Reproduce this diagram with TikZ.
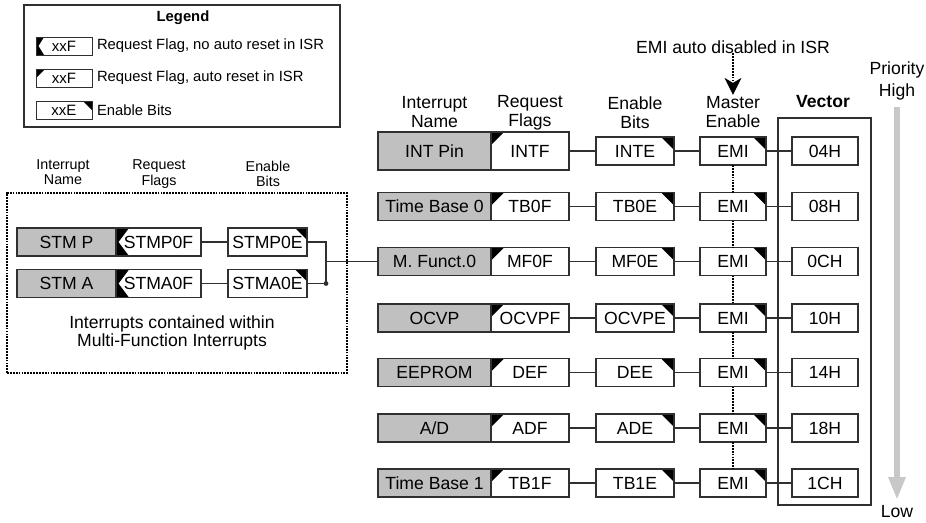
\documentclass[tikz,border=0pt]{standalone}
\usepackage{fontspec}
\setmainfont{Liberation Sans}
\usetikzlibrary{arrows.meta}
\definecolor{gbox}{HTML}{C0C0C0}
\definecolor{gprio}{HTML}{C8C8C8}
\definecolor{lc}{HTML}{303030}
\begin{document}
\begin{tikzpicture}[x=1pt,y=-1pt,
  every node/.style={inner sep=0pt, outer sep=0pt},
  trTL/.style={path picture={\fill[black] (path picture bounding box.north west) -- ++(#1,0) -- ++(-#1,-#1) -- cycle;}},
  trTR/.style={path picture={\fill[black] (path picture bounding box.north east) -- ++(-#1,0) -- ++(#1,-#1) -- cycle;}},
  chev/.style={path picture={\fill[black] (path picture bounding box.north west) -- ++(#1,0) -- ([xshift=2.5pt]path picture bounding box.west) -- ([xshift=#1]path picture bounding box.south west) -- (path picture bounding box.south west) -- cycle;}},
  bx/.style={draw=lc, line width=1.1pt, fill=white, rectangle, minimum height=28pt, font=\fontsize{17.6}{19}\selectfont},
  nm/.style={bx, fill=gbox, minimum width=113pt},
  fl/.style={bx, minimum width=78pt, trTL=13pt},
  en/.style={bx, minimum width=78pt, trTR=13pt},
  emi/.style={bx, minimum width=66pt, trTR=13pt},
  vec/.style={bx, minimum width=66pt},
  lnm/.style={bx, fill=gbox, minimum width=99pt},
  lfl/.style={bx, minimum width=85pt, chev=13pt},
  len/.style={bx, minimum width=79pt, trTR=12pt},
  lgb/.style={draw=lc, line width=1pt, fill=white, rectangle, minimum width=56pt, minimum height=18pt, font=\fontsize{15}{17}\selectfont},
  lgt/.style={anchor=west, font=\fontsize{14.8}{16}\selectfont},
  hdr/.style={align=center, font=\fontsize{17.6}{19}\selectfont},
  lhdr/.style={align=center, font=\fontsize{14.3}{15.5}\selectfont},
  con/.style={draw=lc, line width=1.1pt},
  dotline/.style={draw=black, line width=2pt, dash pattern=on 1.8pt off 1.1pt},
]
\useasboundingbox (0,0) rectangle (926,522);

% Legend
\node[draw=lc, line width=1.1pt, minimum width=316pt, minimum height=122pt] (legend) at (182,66) {};
\node[font=\fontsize{14.8}{16}\selectfont\bfseries] (legtitle) at (183,18) {Legend};
\node[lgb, chev=8pt] (lg1) at (64,46) {xxF};
\node[lgb, trTL=9pt] (lg2) at (64,78) {xxF};
\node[lgb, trTR=9pt] (lg3) at (64,110) {xxE};
\node[lgt] (lt1) at (97,46) {Request Flag, no auto reset in ISR};
\node[lgt] (lt2) at (97,78) {Request Flag, auto reset in ISR};
\node[lgt] (lt3) at (97,110) {Enable Bits};

% Left panel
\node[dotline, minimum width=340pt, minimum height=180pt] (mfbox) at (177,283) {};
\node[lhdr] (lh1) at (63,172) {Interrupt\\Name};
\node[lhdr] (lh2) at (159,174) {Request\\Flags};
\node[lhdr] (lh3) at (268,174) {Enable\\Bits};
\node[lnm] (stmpn) at (66.5,242) {STM P};
\node[lfl] (stmpf) at (158.5,242) {STMP0F};
\node[len] (stmpe) at (267.5,242) {STMP0E};
\node[lnm] (stman) at (66.5,283.5) {STM A};
\node[lfl] (stmaf) at (158.5,283.5) {STMA0F};
\node[len] (stmae) at (267.5,283.5) {STMA0E};
\node[align=center, font=\fontsize{17.6}{18.5}\selectfont] (mftxt) at (172,333) {Interrupts contained within\\Multi-Function Interrupts};

% Right panel headers
\node[hdr] (h1) at (434.5,112.5) {Interrupt\\Name};
\node[hdr] (h2) at (530,112.5) {Request\\Flags};
\node[hdr] (h3) at (635,112.5) {Enable\\Bits};
\node[hdr] (h4) at (733,112.5) {Master\\Enable};
\node[font=\fontsize{17.6}{19}\selectfont\bfseries] (h5) at (823,102) {Vector};
\node[font=\fontsize{17.6}{19}\selectfont] (emitxt) at (733,47) {EMI auto disabled in ISR};
\node[align=center, font=\fontsize{17.6}{21.5}\selectfont] (prhigh) at (897,81) {Priority\\High};
\node[font=\fontsize{17.6}{19}\selectfont] (prlow) at (897,512) {Low};

% Vector frame
\node[draw=lc, line width=1.1pt, minimum width=93pt, minimum height=387pt] (vbox) at (824.5,311.5) {};

% Rows
\node[nm, minimum height=38pt] (n1) at (434.5,151) {INT Pin};
\node[fl, minimum height=38pt] (f1) at (530,151) {INTF};
\node[en] (e1) at (635,151) {INTE};
\node[emi] (m1) at (733,151) {EMI};
\node[vec] (v1) at (825,151) {04H};

\node[nm] (n2) at (434.5,206.5) {Time Base 0};
\node[fl] (f2) at (530,206.5) {TB0F};
\node[en] (e2) at (635,206.5) {TB0E};
\node[emi] (m2) at (733,206.5) {EMI};
\node[vec] (v2) at (825,206.5) {08H};

\node[nm] (n3) at (434.5,261.5) {M. Funct.0};
\node[fl] (f3) at (530,261.5) {MF0F};
\node[en] (e3) at (635,261.5) {MF0E};
\node[emi] (m3) at (733,261.5) {EMI};
\node[vec] (v3) at (825,261.5) {0CH};

\node[nm] (n4) at (434.5,318) {OCVP};
\node[fl] (f4) at (530,318) {OCVPF};
\node[en] (e4) at (635,318) {OCVPE};
\node[emi] (m4) at (733,318) {EMI};
\node[vec] (v4) at (825,318) {10H};

\node[nm] (n5) at (434.5,372.5) {EEPROM};
\node[fl] (f5) at (530,372.5) {DEF};
\node[en] (e5) at (635,372.5) {DEE};
\node[emi] (m5) at (733,372.5) {EMI};
\node[vec] (v5) at (825,372.5) {14H};

\node[nm] (n6) at (434.5,428) {A/D};
\node[fl] (f6) at (530,428) {ADF};
\node[en] (e6) at (635,428) {ADE};
\node[emi] (m6) at (733,428) {EMI};
\node[vec] (v6) at (825,428) {18H};

\node[nm] (n7) at (434.5,483) {Time Base 1};
\node[fl] (f7) at (530,483) {TB1F};
\node[en] (e7) at (635,483) {TB1E};
\node[emi] (m7) at (733,483) {EMI};
\node[vec] (v7) at (825,483) {1CH};

% Connectors
\foreach \i in {1,...,7} {
  \draw[con] (f\i.east) -- (e\i.west);
  \draw[con] (e\i.east) -- (m\i.west);
  \draw[con] (m\i.east) -- (v\i.west);
}
\foreach \a/\b in {1/2,2/3,3/4,4/5,5/6,6/7}
  \draw[dotline] (m\a.south) -- (m\b.north);
\draw[dotline, shorten >=16pt] (emitxt.south) -- (h4.north);
\fill[black] ([yshift=2pt]h4.north) -- ++(-8.5pt,17pt) -- ++(8.5pt,-5pt) -- ++(8.5pt,5pt) -- cycle;

% Left panel connectors
\draw[con] (stmpf.east) -- (stmpe.west);
\draw[con] (stmaf.east) -- (stmae.west);
\coordinate (jb) at (326,283.5);
\draw[con] (stmpe.east) -| (jb);
\draw[con] (stmae.east) -- (jb);
\fill[lc] (jb) circle (2.4pt);
\draw[con] (jb |- n3.west) -- (n3.west);

% Priority arrow
\coordinate (phigh) at (897,107);
\coordinate (plow) at (897,500);
\draw[gprio, line width=6pt, -{Triangle[length=23pt,width=16pt]}] (phigh) -- (plow);
\end{tikzpicture}
\end{document}
